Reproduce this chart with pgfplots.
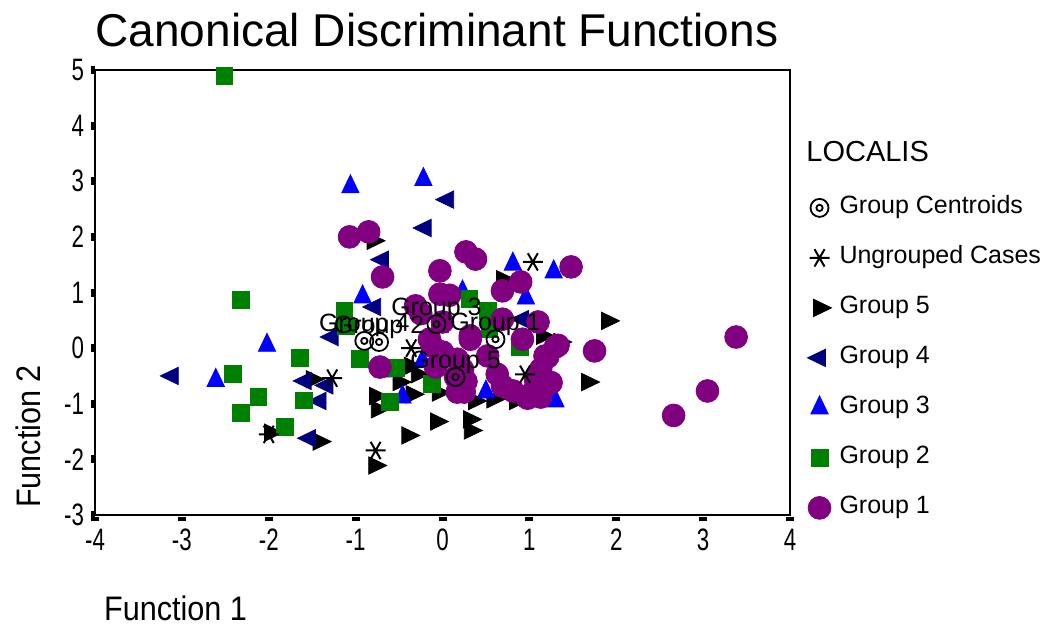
\documentclass[border=0pt]{standalone}
\usepackage{pgfplots}
\pgfplotsset{compat=1.18}
\usepackage{fontspec}
\setmainfont{Liberation Sans}
\definecolor{gpurple}{HTML}{800080}
\definecolor{ggreen}{HTML}{008000}
\definecolor{gblue}{HTML}{0000FF}
\definecolor{gnavy}{HTML}{000080}
\pgfdeclareplotmark{centroid}{%
  \pgfpathcircle{\pgfpointorigin}{\pgfplotmarksize}%
  \pgfpathcircle{\pgfpointorigin}{0.35\pgfplotmarksize}%
  \pgfusepathqstroke}
\pgfplotsset{
  g1/.style={only marks, mark=*, mark size=5.7pt, color=gpurple},
  g2/.style={only marks, mark=square*, mark size=4.2pt, color=ggreen},
  g3/.style={only marks, mark=triangle*, mark size=5pt, color=gblue, mark options={yscale=1.2}},
  g4/.style={only marks, mark=triangle*, mark size=5pt, color=gnavy, mark options={rotate=90, yscale=1.2}},
  g5/.style={only marks, mark=triangle*, mark size=5pt, color=black, mark options={rotate=-90, yscale=1.2}},
  gu/.style={only marks, mark=asterisk, mark size=5pt, color=black, mark options={rotate=90, line width=1pt}},
  gc/.style={only marks, mark=centroid, mark size=4.5pt, color=black, mark options={line width=0.9pt}},
}
\begin{document}
\begin{tikzpicture}
\begin{axis}[
  scale only axis, width=347.5pt, height=222.5pt,
  xmin=-4, xmax=4, ymin=-3, ymax=5,
  xtick={-4,-3,...,4}, ytick={-3,-2,...,5},
  tick pos=left,
  axis line style={line width=1.3pt},
  tick align=outside, major tick length=2pt,
  xtick style={line width=4pt, black, yshift=-1.2pt},
  ytick style={line width=4pt, black},
  tick label style={font=\fontsize{15.5}{18}\selectfont},
  xticklabel style={yshift=-1.5pt},
  xticklabel={\scalebox{0.72}[1]{\pgfmathprintnumber[assume math mode=true]{\tick}}},
  yticklabel={\scalebox{0.72}[1]{\pgfmathprintnumber[assume math mode=true]{\tick}}},
  clip=false,
  title={Canonical Discriminant Functions},
  title style={font=\fontsize{23}{27}\selectfont, at={(axis description cs:0.492,1)}, anchor=base, yshift=6pt},
  xlabel={\scalebox{0.9}[1]{Function 1}},
  xlabel style={font=\fontsize{17}{20}\selectfont, at={(axis description cs:0.003,0)}, anchor=base west, yshift=-52.5pt},
  ylabel={\scalebox{0.9}[1]{Function 2}},
  ylabel style={font=\fontsize{17}{20}\selectfont, at={(axis description cs:-0.079,0)}, anchor=base west},
  legend style={at={(axis description cs:1.016,0.727)}, anchor=north west, draw=none, fill=none,
    font=\fontsize{12.5}{15}\selectfont, row sep=13pt, column sep=4pt,
    nodes={inner sep=0pt, text height=9pt, text depth=3pt}},
  legend cell align=left,
]
\addlegendimage{gc}\addlegendentry{Group Centroids}
\addlegendimage{gu}\addlegendentry{Ungrouped Cases}
\addlegendimage{g5}\addlegendentry{Group 5}
\addlegendimage{g4}\addlegendentry{Group 4}
\addlegendimage{g3}\addlegendentry{Group 3}
\addlegendimage{g2}\addlegendentry{Group 2}
\addlegendimage{g1}\addlegendentry{Group 1}

% Group 5
\addplot[g5, forget plot] table {
x y
-0.80 1.93
1.90 0.49
1.67 -0.61
-0.78 -2.11
-0.40 -1.57
-0.07 -1.32
0.31 -1.28
0.32 -1.48
-1.42 -1.68
-0.37 -0.32
-0.50 -0.61
-0.35 -0.83
-0.77 -0.86
-0.75 -1.10
-1.50 -0.56
-0.29 -0.47
0.69 1.24
0.37 -0.95
0.58 -0.92
0.84 -0.95
1.15 0.22
1.35 0.11
-0.05 -0.80
-1.98 -1.52
};
% Group 4
\addplot[g4, forget plot] table {
x y
-3.11 -0.50
0.06 2.67
-0.20 2.16
-0.69 1.59
-1.27 0.20
-0.78 0.74
-1.58 -0.59
-1.33 -0.67
-1.41 -0.95
-1.53 -1.62
0.92 0.52
};
% Group 3
\addplot[g3, forget plot] table {
x y
-1.06 2.90
-0.22 3.03
-2.02 0.05
-2.61 -0.58
-0.92 0.92
0.23 1.01
0.81 1.51
1.28 1.37
0.96 0.90
0.50 -0.79
1.30 -0.95
-0.46 -0.88
-0.23 -0.23
-0.69 -0.41
};
% Group 2
\addplot[g2, forget plot] table {
x y
-2.51 4.90
-2.32 0.86
-2.41 -0.47
-2.12 -0.88
-2.32 -1.17
-1.81 -1.41
-1.64 -0.18
-1.60 -0.94
-1.13 0.68
-1.11 0.40
-0.95 -0.20
-0.53 -0.36
-0.61 -0.97
-0.12 -0.64
0.31 0.88
0.52 0.67
-0.03 0.43
0.54 0.34
0.89 0.02
};
% Group 1
\addplot[g1, forget plot] table {
x y
-1.07 2.00
-0.85 2.09
-0.69 1.28
-0.03 1.39
0.27 1.73
0.38 1.60
0.90 1.19
0.69 1.03
1.48 1.46
3.38 0.20
3.05 -0.77
2.66 -1.21
1.75 -0.05
-0.03 0.97
0.08 0.95
-0.31 0.76
-0.25 0.62
1.10 0.47
0.69 0.52
0.00 0.47
0.32 0.16
0.92 0.16
1.30 0.02
1.21 -0.16
0.52 -0.14
-0.12 0.04
-0.08 -0.34
0.23 -0.38
0.27 -0.60
0.17 -0.79
0.63 -0.47
0.69 -0.68
0.81 -0.77
1.04 -0.79
1.13 -0.88
1.07 -0.56
1.13 -0.38
1.18 -0.14
-0.72 -0.34
-0.15 0.16
0.00 -0.07
0.17 -0.20
0.15 -0.52
0.25 -0.79
0.32 0.22
1.25 -0.62
0.98 -0.90
1.33 0.05
};
% Ungrouped
\addplot[gu, forget plot] table {
x y
1.04 1.55
0.95 -0.47
-0.77 -1.84
-2.00 -1.55
-1.27 -0.54
-0.36 0.00
};
% Centroids
\addplot[gc, forget plot, nodes near coords, point meta=explicit symbolic,
  every node near coord/.append style={font=\fontsize{12.5}{15}\selectfont, text=black, anchor=base, inner sep=0pt, yshift=4.5pt}]
  table[col sep=comma, meta=lab] {
x,y,lab
0.61,0.16,Group 1
-0.73,0.11,Group 2
-0.07,0.43,Group 3
-0.90,0.13,Group 4
0.15,-0.52,Group 5
};
\node[anchor=west, font=\fontsize{14.5}{17}\selectfont, inner sep=0pt] at (axis description cs:1.023,0.816) {LOCALIS};
\end{axis}
\pgfresetboundingbox
\path[use as bounding box] (-47.5pt,-56pt) rectangle (474pt,257.5pt);
\end{tikzpicture}
\end{document}
